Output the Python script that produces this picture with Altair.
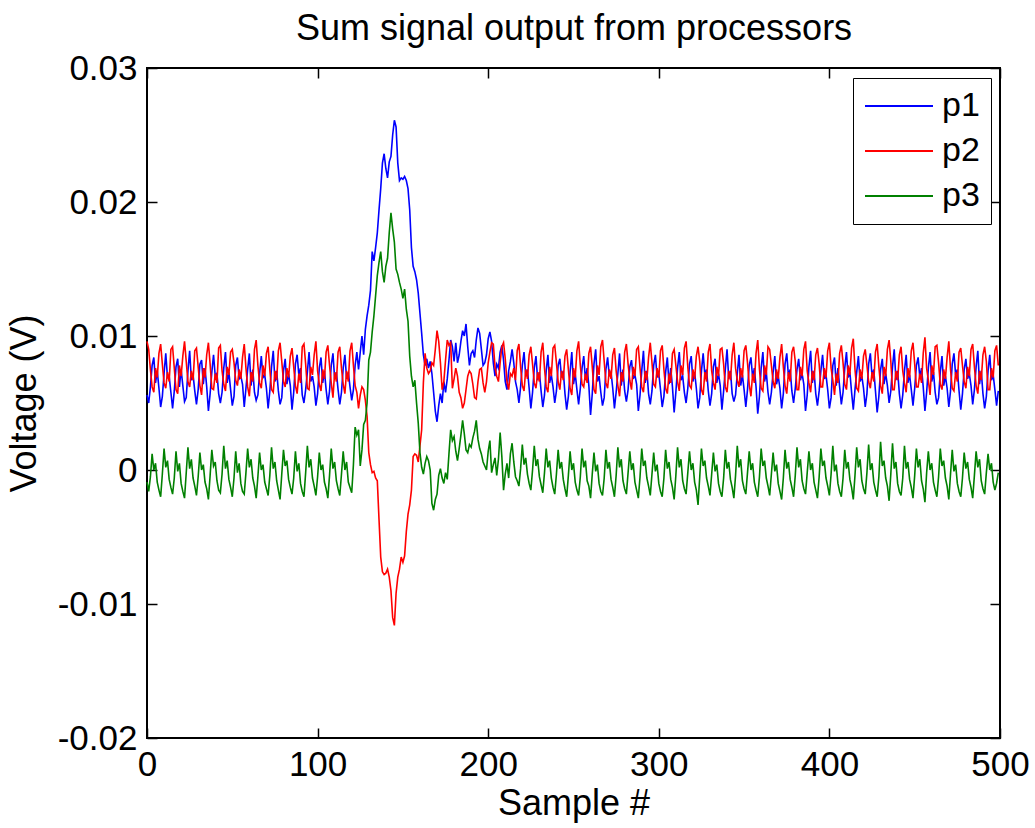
import altair as alt
import pandas as pd

# ---- data (values in millivolts; one row = 7 samples) ----
SERIES = ["p1", "p2", "p3"]
COLORS = ["#0000ff", "#ff0000", "#008000"]
TITLE = "Sum signal output from processors"

P1_MV = [
    5.6, 5.0, 6.2, 7.8, 8.4, 6.5, 7.4,
    6.1, 4.7, 5.5, 7.2, 8.7, 6.9, 7.0,
    5.8, 4.6, 5.9, 7.7, 8.3, 6.2, 7.5,
    6.3, 5.1, 5.4, 7.4, 8.9, 6.7, 7.1,
    5.9, 4.9, 6.0, 7.9, 8.2, 6.4, 7.6,
    6.2, 4.4, 5.7, 7.3, 8.6, 7.0, 7.2,
    5.7, 5.0, 5.8, 7.6, 8.8, 6.5, 7.3,
    6.0, 4.8, 5.5, 7.8, 8.4, 6.8, 7.0,
    6.4, 4.7, 6.1, 7.5, 8.7, 6.3, 7.5,
    5.8, 5.2, 5.6, 7.2, 8.5, 6.9, 7.1,
    6.1, 4.6, 5.9, 7.7, 8.9, 6.6, 7.4,
    5.9, 4.9, 5.4, 7.4, 8.3, 6.4, 7.2,
    6.3, 4.5, 5.8, 7.9, 8.6, 7.1, 7.6,
    5.6, 5.0, 6.0, 7.3, 8.8, 6.6, 7.0,
    6.2, 4.8, 5.7, 7.6, 8.4, 6.5, 7.4,
    6.0, 4.9, 5.9, 7.8, 8.7, 6.8, 7.3,
    6.0, 4.9, 5.8, 7.6, 8.6, 6.8, 7.3,
    6.2, 5.2, 6.0, 7.8, 8.8, 7.5, 8.8,
    10.0, 8.6, 10.5, 11.5, 12.3, 13.4, 16.3,
    15.6, 16.6, 17.7, 19.4, 21.0, 22.9, 23.6,
    22.5, 21.8, 23.0, 23.4, 25.0, 26.1, 25.6,
    22.9, 21.6, 21.8, 21.7, 21.9, 21.6, 21.0,
    19.4, 16.6, 15.2, 14.8, 14.2, 13.2, 11.7,
    10.2, 8.6, 7.8, 8.3, 7.6, 8.1, 7.2,
    5.8, 4.4, 3.6, 4.8, 5.7, 5.0, 6.6,
    5.8, 6.8, 8.2, 9.7, 9.2, 8.1, 9.5,
    8.0, 8.6, 9.6, 10.4, 10.0, 10.9, 9.2,
    7.8, 8.7, 8.9, 8.4, 9.7, 10.6, 10.2,
    9.0, 7.8, 8.0, 8.6, 9.8, 10.3, 9.6,
    8.0, 7.0, 7.9, 7.6, 8.8, 9.3, 8.2,
    6.6, 6.0, 7.4, 8.1, 9.0, 8.0, 6.6,
    6.0, 5.0, 6.2, 7.8, 8.8, 7.0, 7.5,
    6.1, 4.6, 5.8, 7.6, 8.5, 6.7, 7.3,
    5.9, 4.7, 5.6, 7.4, 8.6, 6.5, 7.1,
    6.2, 5.0, 5.9, 7.8, 8.3, 6.9, 7.4,
    5.7, 4.5, 5.5, 7.3, 8.8, 6.4, 7.2,
    6.0, 4.9, 6.1, 7.6, 8.5, 6.7, 7.6,
    6.3, 4.1, 5.7, 7.9, 9.0, 6.6, 7.0,
    5.8, 4.8, 5.4, 7.5, 8.4, 7.0, 7.3,
    6.1, 4.6, 5.8, 7.2, 8.7, 6.3, 7.5,
    5.9, 5.1, 6.0, 7.7, 8.2, 6.8, 7.1,
    6.4, 4.4, 5.6, 7.4, 8.9, 6.5, 7.4,
    5.7, 4.9, 5.9, 7.8, 8.6, 6.9, 7.2,
    6.0, 4.7, 5.5, 7.3, 8.4, 6.4, 7.6,
    6.2, 4.3, 5.8, 7.6, 8.8, 6.7, 7.0,
    5.8, 5.0, 6.1, 7.9, 8.5, 6.6, 7.3,
    6.1, 4.6, 5.4, 7.4, 8.7, 7.1, 7.5,
    5.9, 4.8, 5.7, 7.7, 8.3, 6.5, 7.2,
    6.3, 4.5, 5.9, 7.5, 9.0, 6.8, 7.4,
    5.7, 5.1, 5.6, 7.2, 8.6, 6.3, 7.1,
    6.0, 4.7, 6.0, 7.8, 8.4, 6.9, 7.6,
    6.2, 4.2, 5.5, 7.6, 8.8, 6.6, 7.3,
    5.8, 4.9, 5.8, 7.3, 8.5, 6.4, 7.0,
    6.1, 4.6, 5.7, 7.9, 8.7, 7.0, 7.5,
    5.9, 5.0, 6.1, 7.5, 8.3, 6.7, 7.2,
    6.4, 4.4, 5.6, 7.7, 8.9, 6.5, 7.4,
    5.7, 4.8, 5.9, 7.4, 8.6, 6.8, 7.1,
    6.0, 4.6, 5.4, 7.8, 8.4, 6.3, 7.6,
    6.2, 4.9, 5.8, 7.6, 8.8, 6.9, 7.3,
    5.8, 4.5, 6.0, 7.3, 8.5, 6.6, 7.0,
    6.1, 4.7, 5.7, 7.9, 8.7, 7.0, 7.5,
    5.9, 4.3, 5.5, 7.5, 8.3, 6.4, 7.2,
    6.3, 5.0, 5.9, 7.7, 9.0, 6.7, 7.4,
    5.7, 4.6, 5.6, 7.4, 8.6, 6.5, 7.1,
    6.0, 4.8, 6.1, 7.8, 8.4, 6.9, 7.6,
    6.2, 4.4, 5.8, 7.6, 8.8, 6.6, 7.3,
    5.8, 4.9, 5.4, 7.3, 8.5, 6.3, 7.0,
    6.1, 4.7, 5.9, 7.9, 8.7, 7.1, 7.5,
    5.9, 4.5, 5.7, 7.5, 8.3, 6.8, 7.2,
    6.3, 4.9, 6.0, 7.7, 8.9, 6.4, 7.4,
    5.7, 4.6, 5.5, 7.4, 8.6, 6.7, 7.1,
    6.0, 4.8, 5.9,
]

P2_MV = [
    9.6, 9.0, 7.5, 6.2, 5.8, 7.6, 6.9,
    8.7, 9.4, 7.9, 6.5, 6.1, 7.3, 6.6,
    9.0, 9.2, 7.6, 6.0, 5.7, 7.8, 7.0,
    8.5, 9.6, 8.1, 6.6, 6.2, 7.4, 6.7,
    8.9, 9.1, 7.7, 6.3, 5.6, 7.6, 6.9,
    8.6, 9.5, 7.9, 6.1, 6.0, 7.2, 6.5,
    9.1, 9.3, 7.4, 6.4, 5.9, 7.7, 7.1,
    8.8, 9.0, 8.0, 6.7, 6.3, 7.5, 6.8,
    8.4, 9.4, 7.6, 6.2, 5.5, 7.3, 6.6,
    9.0, 9.7, 7.8, 6.5, 6.1, 7.8, 7.0,
    8.7, 9.2, 7.5, 6.0, 5.8, 7.4, 6.7,
    8.9, 9.5, 8.1, 6.6, 6.2, 7.6, 6.9,
    8.5, 9.1, 7.7, 6.3, 5.7, 7.2, 6.5,
    9.2, 9.4, 7.9, 6.1, 6.0, 7.7, 7.1,
    8.6, 9.6, 7.4, 6.4, 5.9, 7.5, 6.8,
    8.8, 9.3, 7.8, 6.5, 5.4, 7.3, 6.6,
    8.8, 9.2, 7.6, 6.4, 5.7, 7.4, 6.6,
    8.9, 9.5, 7.8, 6.3, 5.8, 4.6, 5.6,
    6.2, 6.0, 5.2, 4.0, 1.3, 0.4, -0.2,
    -0.1, -0.6, -0.8, -3.7, -6.5, -7.6, -7.8,
    -7.7, -7.4, -8.0, -9.0, -11.0, -11.6, -9.2,
    -8.0, -7.4, -6.5, -6.9, -6.4, -4.6, -3.3,
    -2.6, -1.5, 1.0, 1.2, 1.1, 0.6, 1.8,
    3.0, 6.5, 8.7, 7.6, 7.2, 7.4, 8.0,
    7.8, 9.0, 10.4, 9.6, 8.0, 6.0, 6.6,
    8.2, 9.7, 9.3, 9.5, 6.1, 6.8, 7.6,
    7.0, 5.8, 5.4, 4.6, 5.0, 6.0, 7.0,
    7.4, 7.2, 6.4, 5.4, 5.3, 6.6, 7.5,
    7.6, 6.5, 5.8, 6.6, 8.0, 8.8, 9.5,
    9.4, 7.7, 7.0, 6.6, 8.0, 9.2, 9.5,
    8.3, 6.6, 6.0, 7.2, 7.0, 7.6, 6.7,
    8.9, 9.4, 7.7, 6.3, 5.9, 7.5, 6.8,
    8.6, 9.2, 7.9, 6.5, 6.1, 7.3, 6.6,
    8.8, 9.5, 7.6, 6.2, 5.8, 7.7, 7.0,
    9.1, 9.3, 8.0, 6.6, 6.0, 7.4, 6.7,
    8.5, 9.0, 7.5, 6.1, 5.6, 7.6, 6.9,
    8.9, 9.6, 7.8, 6.4, 6.2, 7.2, 6.5,
    8.7, 9.2, 7.7, 6.0, 5.7, 7.8, 7.1,
    9.2, 9.7, 8.1, 6.5, 6.1, 7.5, 6.8,
    8.6, 9.1, 7.4, 6.3, 5.5, 7.3, 6.6,
    8.8, 9.4, 7.9, 6.7, 6.0, 7.7, 7.0,
    9.0, 9.2, 7.6, 6.2, 5.8, 7.4, 6.7,
    8.4, 9.5, 8.0, 6.4, 6.2, 7.6, 6.9,
    8.9, 9.3, 7.5, 6.1, 5.7, 7.2, 6.5,
    8.7, 9.0, 7.8, 6.6, 5.9, 7.8, 7.1,
    9.1, 9.6, 7.7, 6.3, 6.1, 7.5, 6.8,
    8.5, 9.2, 8.1, 6.0, 5.6, 7.3, 6.6,
    8.8, 9.4, 7.4, 6.5, 6.0, 7.7, 7.0,
    9.0, 9.1, 7.9, 6.2, 5.8, 7.4, 6.7,
    8.6, 9.5, 7.6, 6.7, 6.2, 7.6, 6.9,
    8.9, 9.3, 8.0, 6.4, 5.5, 7.2, 6.5,
    8.7, 9.7, 7.5, 6.1, 5.9, 7.8, 7.1,
    9.2, 9.0, 7.8, 6.6, 6.1, 7.5, 6.8,
    8.4, 9.4, 7.7, 6.3, 5.7, 7.3, 6.6,
    8.8, 9.2, 8.1, 6.0, 6.0, 7.7, 7.0,
    9.0, 9.6, 7.4, 6.5, 5.8, 7.4, 6.7,
    8.6, 9.1, 7.9, 6.2, 6.2, 7.6, 6.9,
    8.9, 9.5, 7.6, 6.7, 5.6, 7.2, 6.5,
    8.7, 9.3, 8.0, 6.4, 6.0, 7.8, 7.1,
    9.1, 9.8, 7.5, 6.1, 5.9, 7.5, 6.8,
    8.5, 9.0, 7.8, 6.6, 6.1, 7.3, 6.6,
    8.8, 9.4, 7.7, 6.3, 5.7, 7.7, 7.0,
    9.0, 9.7, 8.1, 6.0, 6.0, 7.4, 6.7,
    8.6, 9.2, 7.4, 6.5, 5.8, 7.6, 6.9,
    8.9, 9.5, 7.9, 6.2, 6.2, 7.2, 6.5,
    8.7, 9.9, 7.6, 6.7, 5.6, 7.8, 7.1,
    9.2, 9.3, 8.0, 6.4, 6.0, 7.5, 6.8,
    8.4, 9.6, 7.5, 6.1, 5.9, 7.3, 6.6,
    8.8, 9.1, 7.8, 6.6, 6.1, 7.7, 7.0,
    9.0, 9.4, 7.7, 6.3, 5.7, 7.4, 6.7,
    8.6, 9.2, 8.1, 6.0, 6.0, 7.6, 6.9,
    8.9, 9.3, 7.8,
]

P3_MV = [
    -0.9, -1.6, -0.5, 1.2, 0.0, 0.5, -0.9,
    -1.5, -2.0, -0.3, 1.6, 0.2, 0.7, -0.7,
    -1.3, -1.8, -0.6, 1.4, -0.1, 0.5, -1.0,
    -1.6, -2.1, -0.2, 1.7, 0.1, 0.8, -0.6,
    -1.2, -1.9, -0.5, 1.3, 0.0, 0.4, -0.9,
    -1.4, -2.2, -0.4, 1.5, 0.3, 0.6, -0.8,
    -1.5, -1.7, -0.3, 1.8, 0.1, 0.7, -0.7,
    -1.3, -2.0, -0.6, 1.4, -0.2, 0.5, -1.0,
    -1.6, -1.8, -0.2, 1.6, 0.2, 0.8, -0.6,
    -1.2, -2.1, -0.5, 1.3, 0.0, 0.4, -0.9,
    -1.4, -1.9, -0.4, 1.7, 0.1, 0.6, -0.8,
    -1.5, -2.2, -0.3, 1.5, 0.3, 0.7, -0.7,
    -1.3, -1.8, -0.6, 1.4, -0.1, 0.5, -1.0,
    -1.6, -2.0, -0.2, 1.8, 0.2, 0.8, -0.6,
    -1.2, -1.9, -0.5, 1.3, 0.0, 0.4, -0.9,
    -1.4, -2.1, -0.4, 1.6, 0.1, 0.6, -0.8,
    -1.4, -1.9, -0.3, 1.4, 0.0, 0.6, -0.9,
    -1.3, -1.7, 0.4, 3.2, 2.6, 3.0, 0.3,
    1.5, 3.4, 3.7, 5.0, 8.2, 8.8, 10.3,
    11.5, 13.0, 14.5, 15.5, 16.3, 14.8, 14.0,
    15.2, 15.8, 17.7, 19.2, 18.0, 17.0, 15.0,
    14.6, 14.0, 13.5, 12.8, 13.5, 12.0, 11.1,
    8.5, 7.0, 6.2, 6.7, 5.0, 3.5, 1.3,
    0.2, -0.3, 0.5, 1.0, 0.7, 0.0, -2.5,
    -3.0, -2.2, -1.8, -0.4, 0.1, -0.6, -1.0,
    -0.2, -0.7, 1.2, 3.0, 2.2, 2.5, 1.4,
    0.7, 1.6, 2.6, 3.7, 2.7, 1.5, 1.3,
    1.9, 1.7, 2.4, 2.9, 3.7, 2.3, 1.6,
    1.2, 0.6, 0.3, 0.0, 1.4, 2.2, -0.2,
    0.4, 0.9, -0.4, 0.8, 2.8, 1.0, -1.5,
    -0.3, 0.5, -0.6, 1.2, 2.0, 0.6, -0.5,
    -0.8, -1.2, 0.1, 1.9, 0.4, 0.9, -0.3,
    -1.0, -1.5, 0.0, 1.8, 0.3, 0.8, -0.5,
    -1.1, -1.7, -0.2, 1.6, 0.2, 0.7, -0.6,
    -1.3, -1.8, -0.3, 1.5, 0.1, 0.6, -0.7,
    -1.4, -2.0, -0.4, 1.4, 0.0, 0.5, -0.9,
    -1.5, -1.9, -0.5, 1.6, 0.2, 0.7, -0.8,
    -1.2, -2.1, -0.3, 1.3, -0.1, 0.4, -1.0,
    -1.6, -1.9, -0.6, 1.5, 0.1, 0.6, -0.7,
    -1.3, -2.0, -0.4, 1.7, 0.2, 0.8, -0.8,
    -1.4, -1.8, -0.2, 1.4, 0.0, 0.5, -0.9,
    -1.5, -2.1, -0.5, 1.6, 0.3, 0.7, -0.6,
    -1.2, -1.9, -0.3, 1.3, -0.1, 0.4, -1.0,
    -1.6, -2.0, -0.6, 1.5, 0.1, 0.6, -0.7,
    -1.3, -2.2, -0.4, 1.7, 0.2, 0.8, -0.8,
    -1.4, -1.8, -0.2, 1.4, 0.0, 0.5, -0.9,
    -1.5, -2.6, -0.5, 1.6, 0.3, 0.7, -0.6,
    -1.2, -1.9, -0.3, 1.3, -0.1, 0.4, -1.0,
    -1.6, -2.0, -0.6, 1.5, 0.1, 0.6, -0.7,
    -1.3, -2.1, -0.4, 1.8, 0.2, 0.8, -0.8,
    -1.4, -1.8, -0.2, 1.4, 0.0, 0.5, -0.9,
    -1.5, -2.0, -0.5, 1.6, 0.3, 0.7, -0.6,
    -1.2, -1.9, -0.3, 1.3, -0.1, 0.4, -1.0,
    -1.6, -2.2, -0.6, 1.5, 0.1, 0.6, -0.7,
    -1.3, -2.0, -0.4, 1.7, 0.2, 0.8, -0.8,
    -1.4, -1.8, -0.2, 1.4, 0.0, 0.5, -0.9,
    -1.5, -2.1, -0.5, 1.6, 0.3, 0.7, -0.6,
    -1.2, -1.9, -0.3, 1.8, -0.1, 0.4, -1.0,
    -1.6, -2.0, -0.6, 1.5, 0.1, 0.6, -0.7,
    -1.3, -2.2, -0.4, 1.7, 0.2, 0.8, -0.8,
    -1.4, -1.8, -0.2, 1.9, 0.0, 0.5, -0.9,
    -1.5, -2.0, -0.5, 2.1, 0.3, 0.7, -0.6,
    -1.2, -2.3, -0.3, 2.0, 0.1, 0.6, -1.0,
    -1.6, -1.9, -0.6, 1.8, 0.1, 0.6, -0.7,
    -1.3, -2.1, -0.4, 1.6, 0.2, 0.8, -0.8,
    -1.4, -2.4, -0.2, 1.4, 0.0, 0.5, -0.9,
    -1.5, -2.0, -0.5, 1.6, 0.3, 0.7, -0.6,
    -1.2, -2.2, -0.3, 1.5, -0.1, 0.4, -1.0,
    -1.6, -2.0, -0.6, 1.3, 0.1, 0.6, -0.7,
    -1.3, -2.1, -0.4, 1.4, 0.2, 0.8, -0.8,
    -1.4, -1.8, -0.2, 1.2, 0.0, 0.5, -0.9,
    -1.5, -1.0, -0.2,
]

X_TICKS = [0, 100, 200, 300, 400, 500]
Y_TICKS = [-0.02, -0.01, 0, 0.01, 0.02, 0.03]

rows = []
for name, vals in zip(SERIES, [P1_MV, P2_MV, P3_MV]):
    for i, v in enumerate(vals):
        rows.append({"sample": i, "voltage": v / 1000.0, "series": name})
df = pd.DataFrame(rows)

FONT = "Liberation Sans"
W, H = 853, 670
TICK_LEN = 10

xscale = alt.Scale(domain=[0, 500], nice=False, zero=False)
yscale = alt.Scale(domain=[-0.02, 0.03], nice=False, zero=False)

y_label_expr = ("datum.value == 0 ? '0' : (datum.value < 0 ? '-' : '') + "
                "format(abs(datum.value), '.2f')")

lines = alt.Chart(df).mark_line(strokeWidth=1.6, interpolate="linear").encode(
    x=alt.X("sample:Q", scale=xscale,
            axis=alt.Axis(orient="bottom", values=X_TICKS, ticks=False, domain=False,
                          grid=False, title="Sample #", format="d",
                          labelPadding=9, titlePadding=4, labelFlush=False,
                          labelOverlap=False)),
    y=alt.Y("voltage:Q", scale=yscale,
            axis=alt.Axis(orient="left", values=Y_TICKS, ticks=False, domain=False,
                          grid=False, title="Voltage (V)", labelExpr=y_label_expr,
                          labelPadding=10, titlePadding=14, labelFlush=False,
                          labelOverlap=False)),
    color=alt.Color("series:N", scale=alt.Scale(domain=SERIES, range=COLORS),
                    legend=alt.Legend(title=None, orient="none", legendX=706, legendY=10,
                                      symbolType="stroke", symbolSize=4624,
                                      symbolStrokeWidth=2, labelFontSize=34,
                                      labelFont=FONT, labelColor="black",
                                      clipHeight=34, rowPadding=11, labelOffset=8,
                                      padding=11, strokeColor="black",
                                      fillColor="white")),
    order="sample:Q",
)

tick_axis = dict(ticks=True, tickSize=TICK_LEN, tickColor="black", tickWidth=1.5,
                 labels=False, domain=False, grid=False, title=None)

ticks_a = alt.Chart(df).mark_line(strokeOpacity=0).encode(
    x=alt.X("sample:Q", scale=xscale,
            axis=alt.Axis(orient="top", offset=-H, values=X_TICKS, **tick_axis)),
    y=alt.Y("voltage:Q", scale=yscale,
            axis=alt.Axis(orient="right", offset=-W, values=Y_TICKS, **tick_axis)),
    detail="series:N",
)

ticks_b = alt.Chart(df).mark_line(strokeOpacity=0).encode(
    x=alt.X("sample:Q", scale=xscale,
            axis=alt.Axis(orient="bottom", offset=-H, values=X_TICKS, **tick_axis)),
    y=alt.Y("voltage:Q", scale=yscale,
            axis=alt.Axis(orient="left", offset=-W, values=Y_TICKS, **tick_axis)),
    detail="series:N",
)

# chart title carried by a plain top axis (no ticks / labels / domain)
title_layer = alt.Chart(df).mark_line(strokeOpacity=0).encode(
    x=alt.X("sample:Q", scale=xscale,
            axis=alt.Axis(orient="top", values=X_TICKS, ticks=False, labels=False,
                          domain=False, grid=False, title=TITLE, titlePadding=21,
                          titleFontSize=36, minExtent=0, maxExtent=0)),
    y=alt.Y("voltage:Q", scale=yscale, axis=None),
    detail="series:N",
)

chart = alt.layer(lines, ticks_a, ticks_b, title_layer).resolve_axis(
    x="independent", y="independent"
).properties(
    width=W, height=H,
    autosize=alt.AutoSizeParams(type="none"),
    padding={"left": 147, "top": 68, "right": 35, "bottom": 90},
    background="white",
).configure_view(
    stroke="black", strokeWidth=2
).configure_axis(
    labelFont=FONT, labelFontSize=35, labelColor="black",
    titleFont=FONT, titleFontSize=36, titleColor="black", titleFontWeight="normal",
)

chart.save("out.html", embed_options={"renderer": "svg", "actions": False})
